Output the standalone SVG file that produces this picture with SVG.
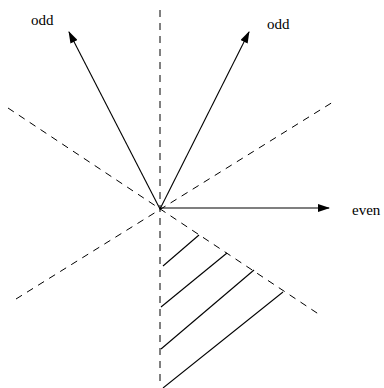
<svg xmlns="http://www.w3.org/2000/svg" width="384" height="388" viewBox="0 0 384 388">
<style>
.dash{stroke:#000;stroke-width:1;stroke-dasharray:7,6;fill:none}
.solid{stroke:#000;stroke-width:1.1;fill:none}
.arrow{stroke:#000;stroke-width:1.1;fill:none;marker-end:url(#ah)}
text{font-family:"Liberation Serif","Times New Roman",serif;font-size:15px;fill:#000}
</style>
<defs>
<marker id="ah" viewBox="0 0 12 8" refX="11" refY="4" markerWidth="12" markerHeight="8" markerUnits="userSpaceOnUse" orient="auto">
<path d="M0,0 L12,4 L0,8 Z" fill="#000"/>
</marker>
</defs>
<g id="axes">
<line class="dash" x1="160" y1="10" x2="160" y2="386"/>
<line class="dash" x1="8" y1="108" x2="320" y2="315"/>
<line class="dash" x1="16" y1="299" x2="333" y2="102"/>
</g>
<g id="hatch">
<line class="solid" x1="163" y1="266" x2="199" y2="235"/>
<line class="solid" x1="161" y1="307" x2="227" y2="253"/>
<line class="solid" x1="161" y1="349" x2="254" y2="270"/>
<line class="solid" x1="163" y1="388" x2="283" y2="292"/>
</g>
<g id="connectors">
<line class="arrow" x1="160" y1="209" x2="69" y2="32"/>
<line class="arrow" x1="160" y1="209" x2="249" y2="32"/>
<line class="arrow" x1="160" y1="208" x2="329" y2="208"/>
</g>
<g id="label-odd-left"><text x="31" y="25">odd</text></g>
<g id="label-odd-right"><text x="267" y="29">odd</text></g>
<g id="label-even"><text x="352" y="215">even</text></g>
</svg>
